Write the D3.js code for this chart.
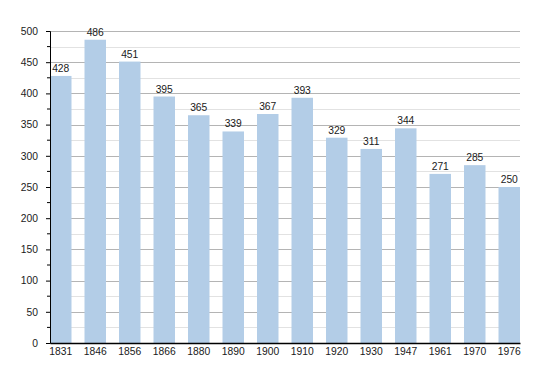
<!DOCTYPE html>
<html>
<head>
<meta charset="utf-8">
<script src="https://cdn.jsdelivr.net/npm/d3@7.9.0/dist/d3.min.js"></script>
<style>
  body { margin: 0; background: #fff; }
  svg { font-family: "Liberation Sans", Arial, sans-serif; }
</style>
</head>
<body>
<div id="chart"></div>
<script>
// Data
const years = ['1831', '1846', '1856', '1866', '1880', '1890', '1900', '1910', '1920', '1930', '1947', '1961', '1970', '1976'];
const population = [428, 486, 451, 395, 365, 339, 367, 393, 329, 311, 344, 271, 285, 250];
const majorTicks = [0, 50, 100, 150, 200, 250, 300, 350, 400, 450, 500];
const minorTicks = [25, 75, 125, 175, 225, 275, 325, 375, 425, 475];

const width = 550;
const height = 373;
const margin = { top: 31, right: 30, bottom: 30, left: 50 };
const fontSize = 10.3;

const svg = d3.select('#chart')
  .append('svg')
  .attr('width', width)
  .attr('height', height);

const x = d3.scaleBand()
  .domain(years)
  .range([margin.left, width - margin.right])
  .paddingInner(0.377)
  .paddingOuter(0);

const y = d3.scaleLinear()
  .domain([0, 500])
  .range([height - margin.bottom, margin.top]);

// gridlines first, bars cover them
const grid = svg.append('g');
grid.selectAll('line.minor')
  .data(minorTicks)
  .join('line')
  .attr('class', 'minor')
  .attr('x1', margin.left).attr('x2', width - margin.right)
  .attr('y1', d => Math.round(y(d)) + 0.5).attr('y2', d => Math.round(y(d)) + 0.5)
  .attr('stroke', '#e2e2e2');
grid.selectAll('line.major')
  .data(majorTicks.slice(1))
  .join('line')
  .attr('class', 'major')
  .attr('x1', margin.left).attr('x2', width - margin.right)
  .attr('y1', d => Math.round(y(d)) + 0.5).attr('y2', d => Math.round(y(d)) + 0.5)
  .attr('stroke', '#b4b4b4');

// bars
svg.append('g')
  .selectAll('rect')
  .data(population)
  .join('rect')
  .attr('x', (d, i) => x(years[i]))
  .attr('y', d => y(d))
  .attr('width', x.bandwidth())
  .attr('height', d => y(0) - y(d))
  .attr('fill', '#b3cde7');

// value labels
svg.append('g')
  .selectAll('text')
  .data(population)
  .join('text')
  .attr('x', (d, i) => x(years[i]) + x.bandwidth() / 2)
  .attr('y', d => y(d) - 4)
  .attr('text-anchor', 'middle')
  .attr('font-size', fontSize)
  .attr('fill', '#1a1a1a')
  .text(d => d);

// y axis
const yAxis = svg.append('g')
  .attr('transform', `translate(${margin.left},0)`);
yAxis.call(d3.axisLeft(y).tickValues(majorTicks).tickSize(4).tickPadding(8));
yAxis.append('g')
  .selectAll('line')
  .data(minorTicks)
  .join('line')
  .attr('x1', -3).attr('x2', 0)
  .attr('y1', d => y(d)).attr('y2', d => y(d))
  .attr('stroke', '#000');
yAxis.selectAll('.tick text').attr('font-size', fontSize).attr('fill', '#1a1a1a')
  .attr('font-family', '"Liberation Sans", Arial, sans-serif');

// x axis
const xAxis = svg.append('g')
  .attr('transform', `translate(0,${y(0)})`);
xAxis.call(d3.axisBottom(x).tickSize(0).tickPadding(5));
xAxis.select('.domain').attr('stroke-width', 1.5);
xAxis.selectAll('.tick text').attr('font-size', fontSize).attr('fill', '#1a1a1a')
  .attr('font-family', '"Liberation Sans", Arial, sans-serif');
</script>
</body>
</html>
